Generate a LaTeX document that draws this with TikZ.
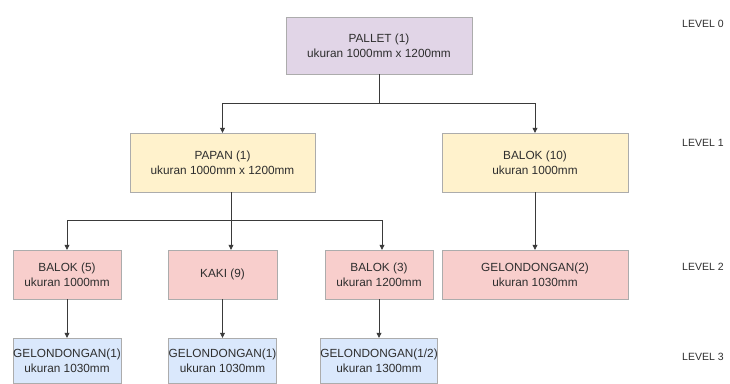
\documentclass[tikz,border=0pt]{standalone}
\usepackage{fontspec}
\setmainfont{Liberation Sans}
\usepackage{tikz}
\usetikzlibrary{arrows.meta,positioning}

\definecolor{txtgray}{HTML}{2E2E2E}
\definecolor{linegray}{HTML}{3A3A3A}
\definecolor{purplefill}{HTML}{E1D5E7}
\definecolor{yellowfill}{HTML}{FFF2CC}
\definecolor{redfill}{HTML}{F8CECC}
\definecolor{bluefill}{HTML}{DAE8FC}

\begin{document}
\begin{tikzpicture}[
  x=1pt, y=-1pt,
  font=\fontsize{11.8}{15}\selectfont, text=txtgray,
  box/.style={draw=gray!65, align=center, inner sep=0pt},
  lvl/.style={anchor=west, inner sep=0pt, font=\fontsize{10.5}{12}\selectfont},
  arr/.style={-{Triangle[length=5pt,width=5pt]}, draw=linegray, line width=0.7pt}
]
\useasboundingbox (0,0) rectangle (730,383);

% level 0
\node[box, fill=purplefill, minimum width=186, minimum height=57] (pallet) at (379,45.5) {PALLET (1)\\ukuran 1000mm x 1200mm};
% level 1
\node[box, fill=yellowfill, minimum width=185, minimum height=59] (papan) at (222.5,162.5) {PAPAN (1)\\ukuran 1000mm x 1200mm};
\node[box, fill=yellowfill, minimum width=186, minimum height=59] (balokten) at (535,162.5) {BALOK (10)\\ukuran 1000mm};
% level 2
\node[box, fill=redfill, minimum width=108, minimum height=49] (balokfive) at (67,274.5) {BALOK (5)\\ukuran 1000mm};
\node[box, fill=redfill, minimum width=109, minimum height=49] (kaki) at (222.5,274.5) {KAKI (9)};
\node[box, fill=redfill, minimum width=108, minimum height=49] (balokthree) at (379,274.5) {BALOK (3)\\ukuran 1200mm};
\node[box, fill=redfill, minimum width=186, minimum height=49] (gelotwo) at (535,274.5) {GELONDONGAN(2)\\ukuran 1030mm};
% level 3
\node[box, fill=bluefill, minimum width=108, minimum height=45] (geloa) at (67,360.5) {GELONDONGAN(1)\\ukuran 1030mm};
\node[box, fill=bluefill, minimum width=108, minimum height=45] (gelob) at (222.5,360.5) {GELONDONGAN(1)\\ukuran 1030mm};
\node[box, fill=bluefill, minimum width=108, minimum height=45] (geloc) at (379,360.5) {GELONDONGAN(1/2)\\ukuran 1300mm};

% level labels
\node[lvl] (lzero) at (682,24) {LEVEL 0};
\node[lvl] (lone) at (682,143) {LEVEL 1};
\node[lvl] (ltwo) at (682,267) {LEVEL 2};
\node[lvl] (lthree) at (682,357) {LEVEL 3};

% connectors
\draw[arr] (pallet.south) |- ++(0,29) -| (papan.north);
\draw[arr] (pallet.south) |- ++(0,29) -| (balokten.north);
\draw[arr] ([xshift=8.5]papan.south) |- ++(0,28) -| (balokfive.north);
\draw[arr] ([xshift=8.5]papan.south) -- ([xshift=8.5]kaki.north);
\draw[arr] ([xshift=8.5]papan.south) |- ++(0,28) -| ([xshift=3]balokthree.north);
\draw[arr] (balokten.south) -- (gelotwo.north);
\draw[arr] (balokfive.south) -- (geloa.north);
\draw[arr] (kaki.south) -- (gelob.north);
\draw[arr] (balokthree.south) -- (geloc.north);
\end{tikzpicture}
\end{document}
